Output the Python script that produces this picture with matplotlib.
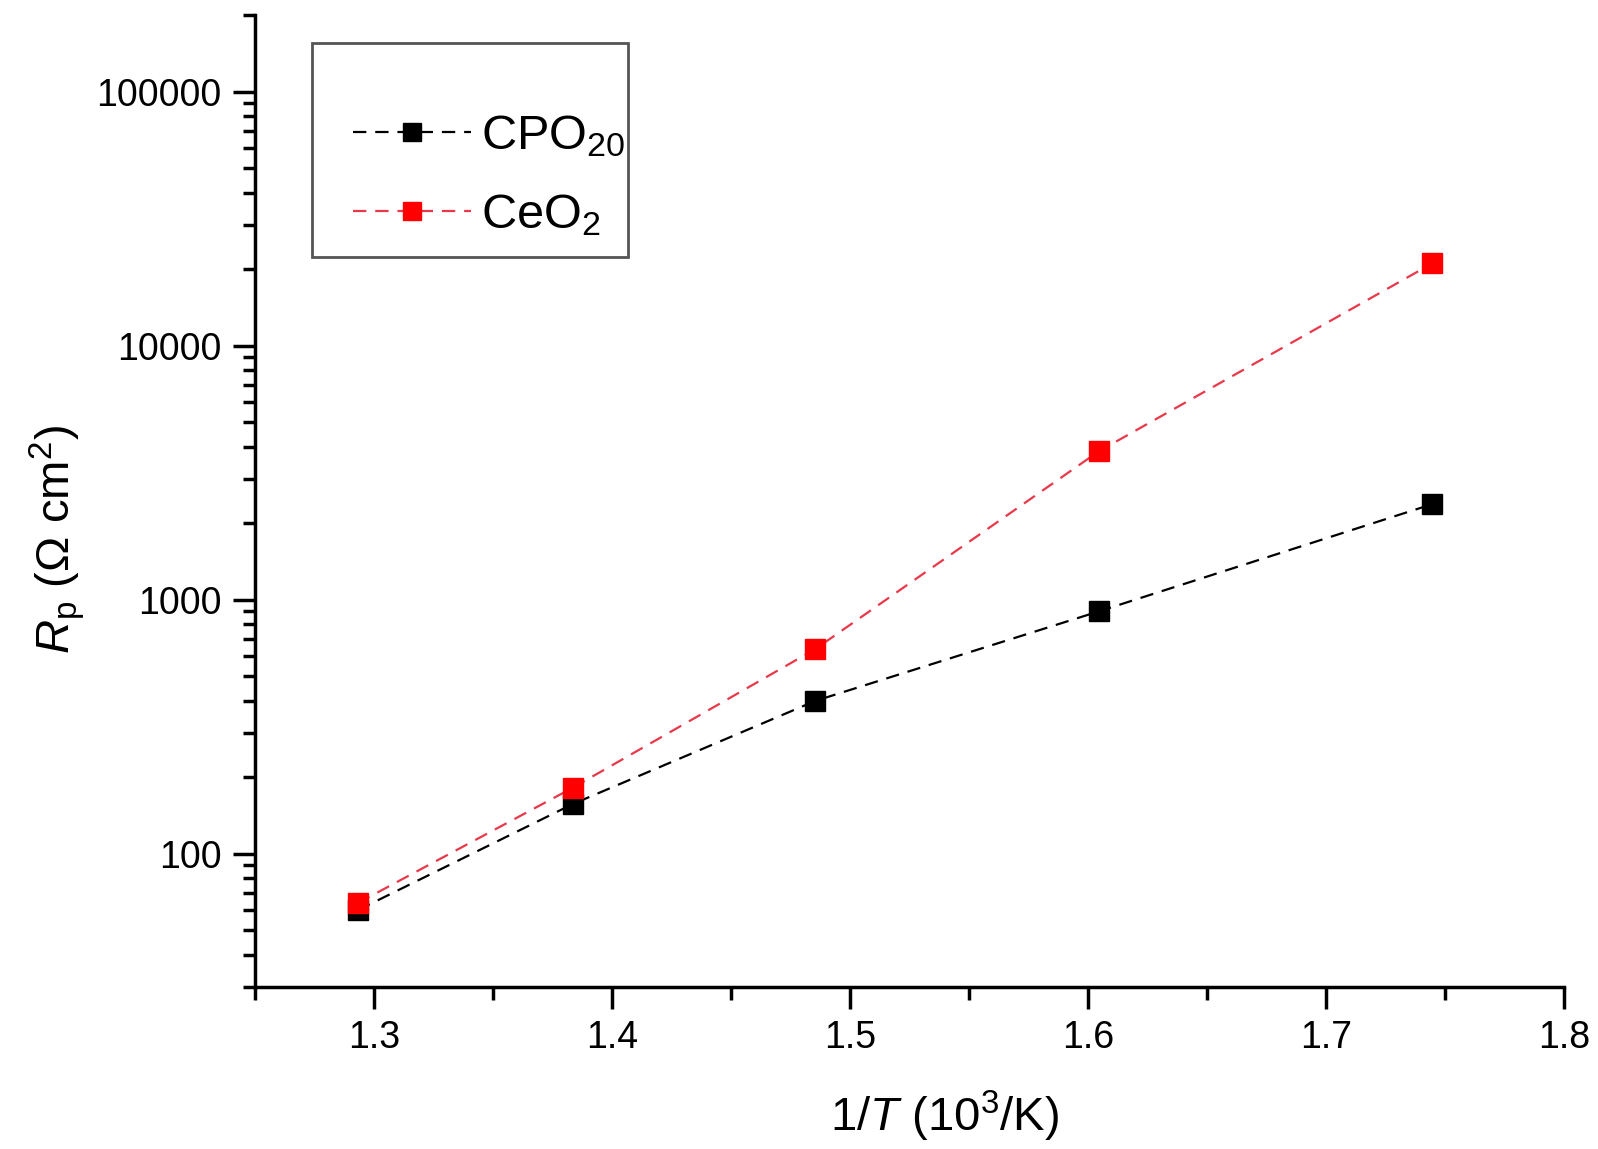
import matplotlib
matplotlib.use("Agg")
import matplotlib.pyplot as plt
from matplotlib.patches import Rectangle
from matplotlib.ticker import LogLocator, FuncFormatter, NullFormatter, MultipleLocator

plt.rcParams["font.family"] = ["Liberation Sans", "DejaVu Sans"]
plt.rcParams["mathtext.fontset"] = "custom"
plt.rcParams["mathtext.rm"] = "Liberation Sans"
plt.rcParams["mathtext.it"] = "Liberation Sans:italic"

# 1/T (10^3/K)
inv_t = [1.2932, 1.3835, 1.4854, 1.6044, 1.7445]
# polarisation resistance (ohm cm^2)
rp_cpo20 = [60, 157, 400, 900, 2380]
rp_ceo2 = [64, 182, 640, 3840, 21100]

fig = plt.figure(figsize=(15.98, 11.49), dpi=100)
ax = fig.add_axes([0.1595, 0.1413, 0.8195, 0.8454])

ax.plot(inv_t, rp_cpo20, linestyle=(0, (6, 4)), color="black", lw=1.6,
        marker="s", markersize=14, markerfacecolor="black", markeredgecolor="black",
        label="CPO$_{20}$")
ax.plot(inv_t, rp_ceo2, linestyle=(0, (6, 4)), color="#e8384a", lw=1.6,
        marker="s", markersize=14, markerfacecolor="#ff0000", markeredgecolor="#ff0000",
        label="CeO$_{2}$")

ax.set_yscale("log")
ax.set_xlim(1.25, 1.8)
ax.set_ylim(30, 200000)

ax.xaxis.set_major_locator(MultipleLocator(0.1))
ax.xaxis.set_minor_locator(MultipleLocator(0.05))
ax.xaxis.set_major_formatter(FuncFormatter(lambda v, p: f"{v:.1f}"))
ax.yaxis.set_major_locator(LogLocator(base=10, numticks=10))
ax.yaxis.set_minor_locator(LogLocator(base=10, subs=range(2, 10), numticks=20))
ax.yaxis.set_major_formatter(FuncFormatter(lambda v, p: f"{int(round(v))}"))
ax.yaxis.set_minor_formatter(NullFormatter())

ax.spines["top"].set_visible(False)
ax.spines["right"].set_visible(False)
for s in ["left", "bottom"]:
    ax.spines[s].set_linewidth(2.5)

ax.tick_params(which="major", direction="out", length=16, width=2.5, labelsize=27, pad=8)
ax.tick_params(which="minor", direction="out", length=9, width=2.5)

ax.set_xlabel("1/$T$ (10$^3$/K)", fontsize=34)
ax.set_ylabel("$R_\\mathrm{p}$ (Ω cm$^2$)", fontsize=34)
ax.xaxis.set_label_coords(0.527, -0.105)
ax.yaxis.set_label_coords(-0.128, 0.46)

# legend without its own frame, boxed by a plain rectangle
leg = ax.legend(loc="upper left", bbox_to_anchor=(0.056, 0.924), fontsize=35,
                frameon=False, borderpad=0, labelspacing=0.68,
                handlelength=2.44, handletextpad=0.2, markerscale=0.9)
ax.add_patch(Rectangle((0.0435, 0.751), 0.2415, 0.2204, transform=ax.transAxes,
                       fill=False, edgecolor="#555555", lw=2, zorder=5))

fig.savefig("out.png", dpi=100)
